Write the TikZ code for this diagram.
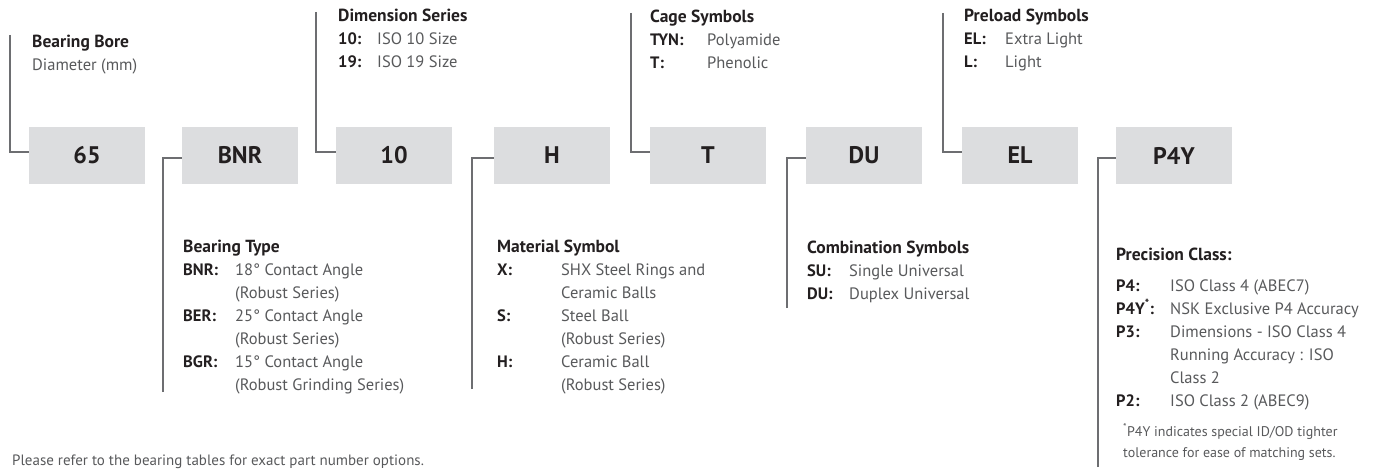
\documentclass[tikz,border=0pt]{standalone}
\usepackage{fontspec}
\setmainfont{PT Sans}
\usepackage{xcolor}
\usetikzlibrary{positioning}
\definecolor{boxgray}{HTML}{DCDDDF}
\definecolor{linegray}{HTML}{6D6E71}
\definecolor{txtgray}{HTML}{58595B}
\definecolor{ink}{HTML}{231F20}
\newcommand{\hd}[1]{{\fontsize{17.5}{23}\selectfont\textbf{\textcolor{ink}{#1}}}}
\newcommand{\key}[2]{\makebox[#1][l]{\textbf{\textcolor{ink}{#2}}}}

\begin{document}
\begin{tikzpicture}[x=1pt, y=-1pt]
\tikzstyle{codebox}=[fill=boxgray, text=ink, minimum width=116pt, minimum height=57pt, inner sep=0pt, font=\fontsize{24}{26}\selectfont\bfseries]
\tikzstyle{legend}=[anchor=base west, inner sep=0pt, text=txtgray, font=\fontsize{16.5}{23}\selectfont]
\tikzstyle{lead}=[draw=linegray, line width=2pt]
\tikzstyle{elbow}=[to path={|- (\tikztotarget)}]
\useasboundingbox (0,0) rectangle (1380,470);

% code boxes
\node[codebox] (n65) at (87,155.5) {65};
\node[codebox] (bnr) at (240,155.5) {BNR};
\node[codebox] (n10) at (394,155.5) {10};
\node[codebox] (h) at (552,155.5) {H};
\node[codebox] (t) at (708,155.5) {T};
\node[codebox] (du) at (864,155.5) {DU};
\node[codebox] (el) at (1020,155.5) {EL};
\node[codebox] (p4y) at (1174,155.5) {P4Y};

% legends above
\node[legend] (bore) at (32,48) {\begin{tabular}[t]{@{}l@{}}
\hd{Bearing Bore}\\
Diameter (mm)
\end{tabular}};
\node[legend] (dim) at (338,22) {\begin{tabular}[t]{@{}l@{}}
\hd{Dimension Series}\\
\key{39pt}{10:}ISO 10 Size\\
\key{39pt}{19:}ISO 19 Size
\end{tabular}};
\node[legend] (cage) at (650,23) {\begin{tabular}[t]{@{}l@{}}
\hd{Cage Symbols}\\
\key{57pt}{TYN:}Polyamide\\
\key{57pt}{T:}Phenolic
\end{tabular}};
\node[legend] (pre) at (964,22) {\begin{tabular}[t]{@{}l@{}}
\hd{Preload Symbols}\\
\key{41pt}{EL:}Extra Light\\
\key{41pt}{L:}Light
\end{tabular}};

% legends below
\node[legend] (type) at (183,252) {\begin{tabular}[t]{@{}l@{}}
\hd{Bearing Type}\\
\key{52pt}{BNR:}18° Contact Angle\\
\key{52pt}{}(Robust Series)\\
\key{52pt}{BER:}25° Contact Angle\\
\key{52pt}{}(Robust Series)\\
\key{52pt}{BGR:}15° Contact Angle\\
\key{52pt}{}(Robust Grinding Series)
\end{tabular}};
\node[legend] (mat) at (497,252) {\begin{tabular}[t]{@{}l@{}}
\hd{Material Symbol}\\
\key{64pt}{X:}SHX Steel Rings and\\
\key{64pt}{}Ceramic Balls\\
\key{64pt}{S:}Steel Ball\\
\key{64pt}{}(Robust Series)\\
\key{64pt}{H:}Ceramic Ball\\
\key{64pt}{}(Robust Series)
\end{tabular}};
\node[legend] (comb) at (807,253) {\begin{tabular}[t]{@{}l@{}}
\hd{Combination Symbols}\\
\key{42pt}{SU:}Single Universal\\
\key{42pt}{DU:}Duplex Universal
\end{tabular}};
\node[legend] (prec) at (1116,261) {\begin{tabular}[t]{@{}l@{}}
\hd{Precision Class:}\\[7pt]
\key{54pt}{P4:}ISO Class 4 (ABEC7)\\
\key{54pt}{P4Y\textsuperscript{*}:}NSK Exclusive P4 Accuracy\\
\key{54pt}{P3:}Dimensions - ISO Class 4\\
\key{54pt}{}Running Accuracy : ISO\\
\key{54pt}{}Class 2\\
\key{54pt}{P2:}ISO Class 2 (ABEC9)
\end{tabular}};
\node[legend, font=\fontsize{14}{21}\selectfont] (note) at (1123,436) {\begin{tabular}[t]{@{}l@{}}
\textsuperscript{*}P4Y indicates special ID/OD tighter\\
tolerance for ease of matching sets.
\end{tabular}};
\node[legend, font=\fontsize{15}{20}\selectfont] (refer) at (12,465) {Please refer to the bearing tables for exact part number options.};

% leader ends
\coordinate (e65) at (10,35);
\coordinate (e10) at (316,12);
\coordinate (et) at (631,13);
\coordinate (eel) at (943,13);
\coordinate (ebnr) at (163,392);
\coordinate (eh) at (472,389);
\coordinate (edu) at (787,308);
\coordinate (ep4y) at (1098,467);

\path[lead]
(e65) edge[elbow] ([yshift=3pt]n65.west)
(e10) edge[elbow] ([yshift=3pt]n10.west)
(et) edge[elbow] ([yshift=3pt]t.west)
(eel) edge[elbow] ([yshift=3pt]el.west)
(ebnr) edge[elbow] ([yshift=-3pt]bnr.west)
(eh) edge[elbow] ([yshift=-3pt]h.west)
(edu) edge[elbow] ([yshift=-3pt]du.west)
(ep4y) edge[elbow] ([yshift=-3pt]p4y.west);

\end{tikzpicture}
\end{document}
